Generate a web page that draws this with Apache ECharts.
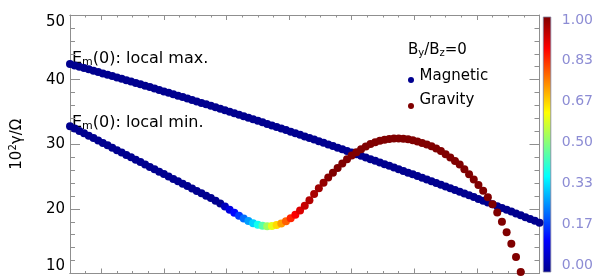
<!DOCTYPE html>
<html><head><meta charset="utf-8">
<script src="https://cdn.jsdelivr.net/npm/echarts@6/dist/echarts.min.js"></script>
<style>html,body{margin:0;padding:0;background:#fff}#c{width:598px;height:278px}</style>
</head><body><div id="c"></div>
<script>
// sample positions along the (unlabelled) x axis
const xVals = [0,0.3,0.6,0.9,1.2,1.5,1.8,2.1,2.4,2.7,
3,3.3,3.6,3.9,4.2,4.5,4.8,5.1,5.4,5.7,
6,6.3,6.6,6.9,7.2,7.5,7.8,8.1,8.4,8.7,
9,9.3,9.6,9.9,10.2,10.5,10.8,11.1,11.4,11.7,
12,12.3,12.6,12.9,13.2,13.5,13.8,14.1,14.4,14.7,
15,15.3,15.6,15.9,16.2,16.5,16.8,17.1,17.4,17.7,
18,18.3,18.6,18.9,19.2,19.5,19.8,20.1,20.4,20.7,
21,21.3,21.6,21.9,22.2,22.5,22.8,23.1,23.4,23.7,
24,24.3,24.6,24.9,25.2,25.5,25.8,26.1,26.4,26.7,
27,27.3,27.6,27.9,28.2,28.5,28.8,29.1,29.4,29.7,
30];
// E_m(0): local max. branch (magnetic)
const magVals = [42.40,42.20,41.99,41.79,41.59,41.38,41.17,40.96,40.76,40.55,
40.34,40.12,39.91,39.70,39.49,39.27,39.06,38.84,38.62,38.40,
38.18,37.97,37.74,37.52,37.30,37.08,36.85,36.63,36.40,36.18,
35.95,35.72,35.49,35.26,35.03,34.80,34.56,34.33,34.10,33.86,
33.62,33.39,33.15,32.91,32.67,32.43,32.19,31.95,31.70,31.46,
31.21,30.97,30.72,30.47,30.22,29.97,29.72,29.47,29.22,28.97,
28.72,28.46,28.21,27.95,27.69,27.43,27.18,26.92,26.66,26.39,
26.13,25.87,25.60,25.34,25.07,24.81,24.54,24.27,24.00,23.73,
23.46,23.19,22.92,22.64,22.37,22.09,21.82,21.54,21.26,20.98,
20.70,20.42,20.14,19.86,19.58,19.29,19.01,18.72,18.43,18.15,
17.86];
// E_m(0): local min. branch
const lowVals = [32.80,32.43,32.06,31.69,31.32,30.95,30.57,30.20,29.83,29.46,
29.09,28.72,28.35,27.98,27.61,27.24,26.86,26.49,26.12,25.75,
25.38,25.01,24.64,24.27,23.90,23.53,23.15,22.78,22.41,22.04,
21.67,21.27,20.84,20.37,19.88,19.39,18.93,18.50,18.11,17.79,
17.54,17.38,17.31,17.35,17.50,17.75,18.10,18.55,19.10,19.75,
20.50,21.35,22.30,23.20,24.05,24.85,25.60,26.33,27.02,27.66,
28.24,28.77,29.24,29.66,30.02,30.31,30.54,30.71,30.82,30.88,
30.89,30.85,30.76,30.62,30.44,30.18,29.95,29.70,29.35,28.95,
28.45,27.95,27.42,26.85,26.15,25.35,24.55,23.70,22.80,21.80,
20.70,19.45,18.00,16.40,14.60,12.55,10.25];
// colour value (0 = magnetic, 1 = gravity) of the local min. branch
const lowMix = [0,0,0,0,0,0,0,0,0,0,
0,0,0,0,0,0,0,0,0,0,
0,0,0,0,0,0,0,0,0,0,
0,0,0,0.05,0.09,0.13,0.18,0.23,0.28,0.33,
0.39,0.46,0.53,0.60,0.66,0.72,0.78,0.84,0.88,0.91,
0.93,0.95,0.96,0.97,0.98,0.99,1,1,1,1,
1,1,1,1,1,1,1,1,1,1,
1,1,1,1,1,1,1,1,1,1,
1,1,1,1,1,1,1,1,1,1,
1,1,1,1,1,1,1];
const magMixValue = 0;
const xMajorTicks = [2,6,10,14,18,22,26,30];
const cbLabels = ['0.00','0.17','0.33','0.50','0.67','0.83','1.00'];
const jet = ['#00008f','#0000ff','#0080ff','#00ffff','#80ff80','#ffff00','#ff8000','#ff0000','#800000'];

const chart = echarts.init(document.getElementById('c'), null, {renderer:'canvas'});
const FONT = 'DejaVu Sans';
const GRAY = '#8f8f8f';
const GL = 58.3, GT = 15, GW = 481.2, GH = 258.5;

function xAx(pos, major) {
  const ax = {type:'value', gridIndex:0, position:pos, min:0, max:30,
    axisLine:{show:true, onZero:false, lineStyle:{color:GRAY, width:1}},
    axisTick:{show:true, inside:true, length: major ? 5 : 2.5, lineStyle:{color:GRAY}},
    axisLabel:{show:false}, splitLine:{show:false}};
  if (major) ax.axisTick.customValues = xMajorTicks; else ax.interval = 1;
  return ax;
}
function yAx(pos, labels) {
  return {type:'value', gridIndex:0, position:pos, min:10, max:50, interval:10,
    axisLine:{show:true, onZero:false, lineStyle:{color:GRAY, width:1}},
    axisTick:{show:true, inside:true, length:10, lineStyle:{color:GRAY}},
    minorTick:{show:true, splitNumber:5, length:5, lineStyle:{color:GRAY}},
    splitLine:{show:false},
    axisLabel:{show:labels, color:'#000', fontFamily:FONT, fontSize:15, margin:5,
      verticalAlignMinLabel:'bottom', verticalAlignMaxLabel:'top'},
    name: labels ? '{a|10}{s|2}{a|γ/Ω}' : '',
    nameLocation:'middle', nameGap:44, nameRotate:90,
    nameTextStyle:{color:'#000', fontFamily:FONT, fontSize:15,
      rich:{a:{fontFamily:FONT, fontSize:15, color:'#000'},
            s:{fontFamily:FONT, fontSize:10, color:'#000', padding:[0,0,8,0]}}}
  };
}

function label(text, x, y, size) {
  const sz = size || 15;
  return {type:'text', x:x, y:y, silent:true,
    style:{text:text, fill:'#000', fontFamily:FONT, fontSize:sz, verticalAlign:'middle', align:'left',
      rich:{a:{fontFamily:FONT, fontSize:sz, fill:'#000'},
            s:{fontFamily:FONT, fontSize:Math.round(sz*0.66), fill:'#000', padding:[7,0,0,0]}}}};
}

chart.setOption({
  animation:false,
  backgroundColor:'#fff',
  grid:[
    {left:GL, top:GT, width:GW, height:GH},
    {left:543.3, top:20, width:7.5, height:245}
  ],
  xAxis:[xAx('bottom', true), xAx('bottom', false), xAx('top', true), xAx('top', false),
    {type:'value', gridIndex:1, show:false, min:0, max:1}],
  yAxis:[yAx('left', true), yAx('right', false),
    {type:'value', gridIndex:1, position:'right', min:0, max:6, interval:1,
     axisLine:{show:false}, axisTick:{show:false}, splitLine:{show:false},
     axisLabel:{show:true, color:'#8c8cd4', fontFamily:FONT, fontSize:14, margin:11,
       formatter:(v)=>cbLabels[v]}}],
  visualMap:{type:'continuous', show:false, min:0, max:1, dimension:2, seriesIndex:[0,1],
    inRange:{color:jet}},
  series:[
    {name:'Magnetic', type:'scatter', xAxisIndex:0, yAxisIndex:0, symbol:'circle', symbolSize:8,
     itemStyle:{opacity:1}, silent:true, data:xVals.map((x,i)=>[x, magVals[i], magMixValue])},
    {name:'Gravity', type:'scatter', xAxisIndex:0, yAxisIndex:0, symbol:'circle', symbolSize:8,
     itemStyle:{opacity:1}, silent:true, data:lowVals.map((v,i)=>[xVals[i], v, lowMix[i]])}
  ],
  graphic:[
    {type:'rect', silent:true, shape:{x:543.3, y:17, width:7.5, height:255},
     style:{fill:new echarts.graphic.LinearGradient(0,0,0,1,[
       {offset:0, color:'#800000'},{offset:0.125, color:'#ff0000'},{offset:0.25,color:'#ff8000'},
       {offset:0.375, color:'#ffff00'},{offset:0.5,color:'#80ff80'},{offset:0.625, color:'#00ffff'},
       {offset:0.75,color:'#0080ff'},{offset:0.875, color:'#0000ff'},{offset:1, color:'#00008f'}]),
       stroke:'#8080a0', lineWidth:0.8}},
    label('{a|E}{s|m}{a|(0): local max.}', 72, 59, 16),
    label('{a|E}{s|m}{a|(0): local min.}', 72, 123, 16),
    label('{a|B}{s|y}{a|/B}{s|z}{a|=0}', 408, 50),
    label('{a|Magnetic}', 419.5, 76),
    label('{a|Gravity}', 419.5, 100.5),
    {type:'circle', silent:true, shape:{cx:411, cy:80, r:3}, style:{fill:'#00008f'}},
    {type:'circle', silent:true, shape:{cx:411, cy:106, r:3}, style:{fill:'#800000'}}
  ]
});
</script></body></html>
